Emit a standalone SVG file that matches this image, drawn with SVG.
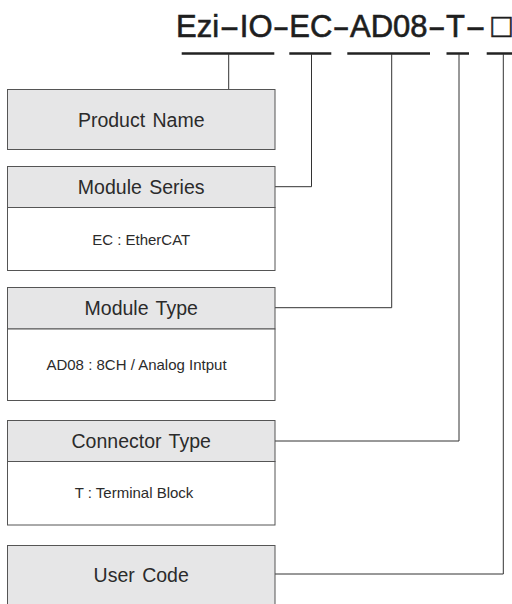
<svg xmlns="http://www.w3.org/2000/svg" width="512" height="604" viewBox="0 0 512 604">
<style>
.hdr{fill:#e6e6e7;stroke:#555;stroke-width:1}
.bdy{fill:#fff;stroke:#555;stroke-width:1}
.lbl{font-family:"Liberation Sans",Arial,sans-serif;font-size:19.5px;fill:#2b2b2b;text-anchor:middle;word-spacing:2px}
.sub{font-family:"Liberation Sans",Arial,sans-serif;font-size:15px;fill:#2b2b2b;text-anchor:middle}
.title{font-family:"Liberation Sans",Arial,sans-serif;font-size:31px;fill:#1e1e1e;stroke:#1e1e1e;stroke-width:0.6}
.ul{stroke:#222;stroke-width:2.5;fill:none}
.ln{stroke:#333;stroke-width:1;fill:none}
</style>
<rect width="512" height="604" fill="#fff"/>
<g id="title">
<text class="title" y="36.5"><tspan x="176">Ezi</tspan><tspan x="219.5" textLength="20" lengthAdjust="spacingAndGlyphs">-</tspan><tspan x="239.8">IO</tspan><tspan x="272.7" textLength="16.5" lengthAdjust="spacingAndGlyphs">-</tspan><tspan x="289.3">EC</tspan><tspan x="332.6" textLength="17.2" lengthAdjust="spacingAndGlyphs">-</tspan><tspan x="350">AD08</tspan><tspan x="427.7" textLength="18" lengthAdjust="spacingAndGlyphs">-</tspan><tspan x="446">T</tspan><tspan x="465.3" textLength="20.5" lengthAdjust="spacingAndGlyphs">-</tspan><tspan x="501.5" text-anchor="middle" font-size="33">□</tspan></text>
</g>
<g id="connectors">
<line class="ul" x1="181.7" y1="53.5" x2="274.3" y2="53.5"/>
<line class="ul" x1="289.3" y1="53.5" x2="331.3" y2="53.5"/>
<line class="ul" x1="347.3" y1="53.5" x2="430" y2="53.5"/>
<line class="ul" x1="446.5" y1="53.5" x2="469" y2="53.5"/>
<line class="ul" x1="486.7" y1="53.5" x2="512" y2="53.5"/>
<polyline class="ln" points="228.7,54 228.7,89.3"/>
<polyline class="ln" points="311.5,54 311.5,186.7 275,186.7"/>
<polyline class="ln" points="391.7,54 391.7,307.7 275,307.7"/>
<polyline class="ln" points="459,54 459,441 275,441"/>
<polyline class="ln" points="503.3,54 503.3,574 275,574"/>
</g>
<g id="product-name">
<rect class="hdr" x="7.5" y="89.5" width="267.5" height="60"/>
<text class="lbl" x="141.2" y="126.5">Product Name</text>
</g>
<g id="module-series">
<rect class="hdr" x="7.5" y="166.5" width="267.5" height="41"/>
<rect class="bdy" x="7.5" y="207.5" width="267.5" height="63"/>
<text class="lbl" x="141.2" y="194">Module Series</text>
<text class="sub" x="141.2" y="244.5">EC : EtherCAT</text>
</g>
<g id="module-type">
<rect class="hdr" x="7.5" y="287.5" width="267.5" height="41.5"/>
<rect class="bdy" x="7.5" y="329" width="267.5" height="71.5"/>
<text class="lbl" x="141.2" y="315">Module Type</text>
<text class="sub" x="136.5" y="370">AD08 : 8CH / Analog Intput</text>
</g>
<g id="connector-type">
<rect class="hdr" x="7.5" y="420.5" width="267.5" height="41"/>
<rect class="bdy" x="7.5" y="461.5" width="267.5" height="63.5"/>
<text class="lbl" x="141.2" y="448">Connector Type</text>
<text class="sub" x="134" y="498">T : Terminal Block</text>
</g>
<g id="user-code">
<rect class="hdr" x="7.5" y="545.5" width="267.5" height="70"/>
<text class="lbl" x="141.2" y="581.5">User Code</text>
</g>
</svg>
